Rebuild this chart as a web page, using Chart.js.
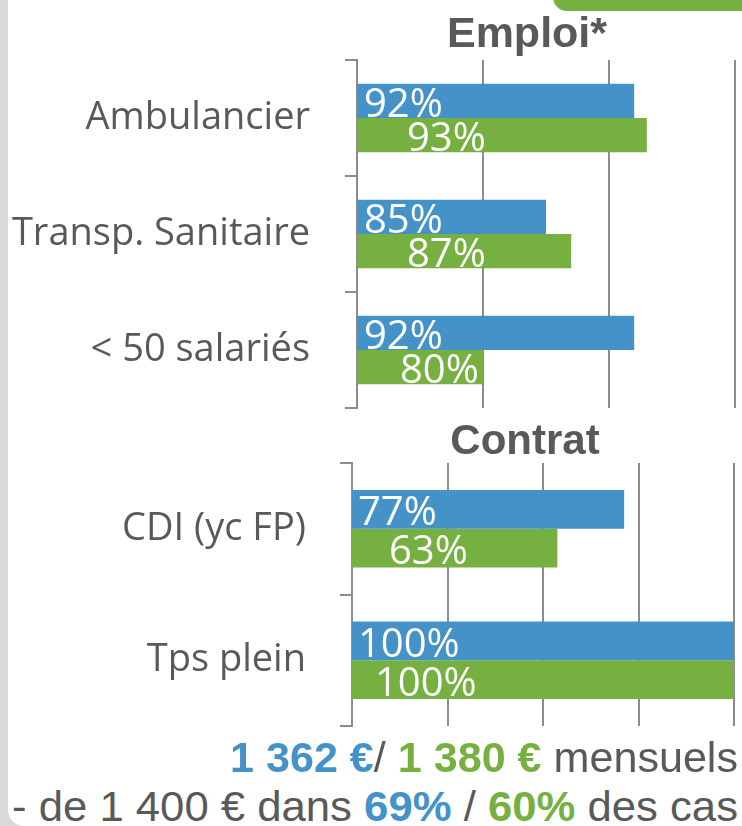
<!DOCTYPE html>
<html>
<head>
<meta charset="utf-8">
<script src="https://cdn.jsdelivr.net/npm/chart.js@4"></script>
<style>
  html, body { margin: 0; padding: 0; }
  body { width: 742px; height: 826px; background: #d9d9d9; position: relative; overflow: hidden; }
  #panel { position: absolute; left: 8px; top: -20px; width: 800px; height: 846px; background: #fff; border-radius: 16px; }
  #tab { position: absolute; left: 553px; top: -20px; width: 230px; height: 31px; background: #76b041; border-radius: 14px; }
  canvas { position: absolute; left: 0; }
  #c1 { top: 0; }
  #c2 { top: 415px; }
  .title { position: absolute; width: 400px; text-align: center; font: bold 43px "Liberation Sans", Arial, sans-serif; line-height: 43px; color: #595959; }
  .line { position: absolute; white-space: nowrap; font: 42px "Liberation Sans Narrow", "Liberation Sans", Arial, sans-serif; line-height: 42px; color: #595959; }
  .line b { font-weight: bold; }
  .blue { color: #4592c9; }
  .green { color: #76b041; }
</style>
</head>
<body>
<div id="panel"></div>
<div id="tab"></div>
<canvas id="c1" width="742" height="420"></canvas>
<canvas id="c2" width="742" height="320"></canvas>
<div class="title" style="left:327px; top:11px;">Emploi*</div>
<div class="title" style="left:325px; top:419px; font-size:42px; line-height:42px;">Contrat</div>
<div class="line" id="l1" style="top:737px;"><b class="blue">1 362 €</b>/ <b class="green">1 380 €</b> mensuels</div>
<div class="line" id="l2" style="top:786px;">- de 1 400 € dans <b class="blue">69%</b> / <b class="green">60%</b> des cas</div>
<script>
// Emploi
const emploiLabels = ['Ambulancier', 'Transp. Sanitaire', '< 50 salariés'];
const emploiBlue = [92, 85, 92];
const emploiGreen = [93, 87, 80];

// Contrat
const contratLabels = ['CDI (yc FP)', 'Tps plein'];
const contratBlue = [77, 100];
const contratGreen = [63, 100];

const BLUE = '#4592c9';
const GREEN = '#76b041';
const GRID = '#8c8c8c';
const TEXT = '#595959';

// white % labels drawn from the left edge of the plot
const barLabels = {
  id: 'barLabels',
  afterDatasetsDraw(chart, args, opts) {
    const ctx = chart.ctx;
    const left = chart.chartArea.left;
    ctx.save();
    ctx.font = '40px "Open Sans"';
    ctx.fillStyle = '#fff';
    ctx.textBaseline = 'alphabetic';
    chart.data.datasets.forEach((ds, di) => {
      chart.getDatasetMeta(di).data.forEach((bar, i) => {
        const x = left + opts.offsets[di][i];
        const y = bar.y + bar.height / 2 - opts.drop;
        ctx.fillText(ds.data[i] + '%', x, y);
      });
    });
    ctx.restore();
  }
};

function makeChart(id, labels, blue, green, min, step, axisX, pad, tickPad, offsets, drop) {
  return new Chart(document.getElementById(id), {
    type: 'bar',
    data: {
      labels: labels,
      datasets: [
        { data: blue, backgroundColor: BLUE, categoryPercentage: 0.59, barPercentage: 1 },
        { data: green, backgroundColor: GREEN, categoryPercentage: 0.59, barPercentage: 1 }
      ]
    },
    options: {
      indexAxis: 'y',
      responsive: false,
      animation: false,
      layout: { padding: pad },
      plugins: {
        legend: { display: false },
        tooltip: { enabled: false },
        barLabels: { offsets: offsets, drop: drop }
      },
      scales: {
        x: {
          min: min, max: 100,
          ticks: { display: false, stepSize: step },
          grid: { color: GRID, lineWidth: 2, drawTicks: false },
          border: { display: false }
        },
        y: {
          afterFit: s => { s.width = axisX; s.paddingTop = 0; s.paddingBottom = 0; },
          grid: { drawOnChartArea: false, color: GRID, lineWidth: 2, tickLength: 12, offset: true },
          border: { color: GRID, width: 2 },
          ticks: { color: TEXT, font: { family: 'Open Sans', size: 38 }, padding: tickPad }
        }
      }
    },
    plugins: [barLabels]
  });
}

makeChart('c1', emploiLabels, emploiBlue, emploiGreen, 70, 10, 357,
  { top: 60, right: 7, bottom: 12, left: 0 }, 35,
  [[7, 7, 7], [50, 50, 43]], 1);

makeChart('c2', contratLabels, contratBlue, contratGreen, 20, 20, 352,
  { top: 48, right: 8, bottom: 9, left: 0 }, 34,
  [[6, 6], [37, 23]], 3.5);

// stretch the two footer lines to their span
function fitLine(id, left, right) {
  const el = document.getElementById(id);
  const w = el.getBoundingClientRect().width;
  el.style.left = left + 'px';
  el.style.transformOrigin = '0 0';
  el.style.transform = 'scaleX(' + ((right - left) / w) + ')';
}
fitLine('l1', 230, 738);
fitLine('l2', 12, 738);
</script>
</body>
</html>
